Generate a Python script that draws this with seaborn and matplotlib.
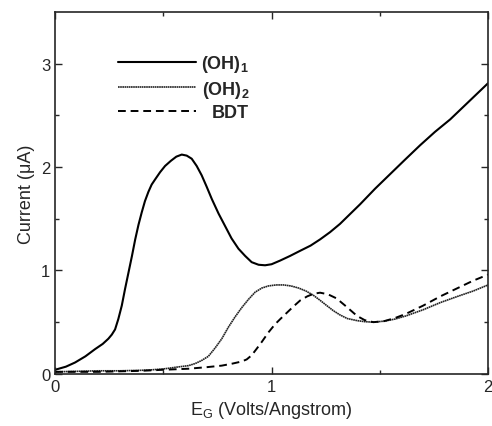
import numpy as np
import pandas as pd
import seaborn as sns
import matplotlib.pyplot as plt

x_oh1 = [0, 0.05, 0.092, 0.14, 0.185, 0.22, 0.246, 0.262, 0.277, 0.292, 0.308, 0.323, 0.339, 0.355,
         0.37, 0.385, 0.40, 0.415, 0.431, 0.446, 0.462, 0.485, 0.508, 0.535, 0.56, 0.585, 0.608, 0.631,
         0.654, 0.677, 0.70, 0.724, 0.755, 0.785, 0.815, 0.847, 0.878, 0.908, 0.94, 0.97, 1.0, 1.039,
         1.085, 1.132, 1.18, 1.224, 1.27, 1.316, 1.36, 1.409, 1.478, 1.547, 1.616, 1.686, 1.755, 1.825,
         1.91, 2.0]
y_oh1 = [0.04, 0.07, 0.11, 0.17, 0.24, 0.29, 0.34, 0.38, 0.43, 0.53, 0.66, 0.82, 0.98, 1.14,
         1.30, 1.44, 1.56, 1.67, 1.76, 1.83, 1.88, 1.95, 2.01, 2.06, 2.10, 2.12, 2.11, 2.08,
         2.01, 1.92, 1.81, 1.69, 1.55, 1.43, 1.31, 1.21, 1.14, 1.08, 1.055, 1.05, 1.06, 1.095,
         1.14, 1.19, 1.24, 1.30, 1.37, 1.45, 1.54, 1.64, 1.79, 1.93, 2.07, 2.21, 2.34, 2.46,
         2.63, 2.81]

x_oh2 = [0, 0.1, 0.2, 0.3, 0.4, 0.45, 0.508, 0.56, 0.616, 0.647, 0.677, 0.708, 0.739, 0.77, 0.80,
         0.831, 0.862, 0.893, 0.924, 0.955, 0.985, 1.02, 1.055, 1.09, 1.125, 1.16, 1.193, 1.225, 1.255,
         1.286, 1.316, 1.35, 1.395, 1.43, 1.47, 1.52, 1.57, 1.62, 1.7, 1.78, 1.86, 1.93, 2.0]
y_oh2 = [0.02, 0.025, 0.03, 0.03, 0.035, 0.04, 0.05, 0.065, 0.08, 0.10, 0.13, 0.17, 0.25, 0.34, 0.45,
         0.55, 0.64, 0.72, 0.79, 0.83, 0.85, 0.86, 0.86, 0.85, 0.83, 0.80, 0.76, 0.71, 0.66,
         0.61, 0.57, 0.535, 0.515, 0.505, 0.50, 0.51, 0.53, 0.56, 0.62, 0.69, 0.75, 0.80, 0.86]

x_bdt = [0, 0.1, 0.2, 0.3, 0.4, 0.5, 0.616, 0.7, 0.77, 0.82, 0.862, 0.885, 0.908, 0.93, 0.955,
         0.985, 1.016, 1.04, 1.07, 1.1, 1.132, 1.165, 1.195, 1.224, 1.26, 1.3, 1.34, 1.395, 1.43,
         1.47, 1.52, 1.57, 1.62, 1.7, 1.78, 1.86, 1.93, 2.0]
y_bdt = [0.02, 0.02, 0.02, 0.025, 0.03, 0.04, 0.05, 0.065, 0.08, 0.10, 0.12, 0.14, 0.18, 0.24, 0.31,
         0.40, 0.48, 0.53, 0.59, 0.65, 0.71, 0.75, 0.775, 0.785, 0.77, 0.73, 0.66, 0.56, 0.52,
         0.50, 0.51, 0.54, 0.58, 0.66, 0.75, 0.83, 0.90, 0.96]

sns.set_style('ticks')
plt.rcParams['font.family'] = ['Liberation Sans', 'DejaVu Sans']
plt.rcParams['mathtext.fontset'] = 'custom'
plt.rcParams['mathtext.rm'] = 'Liberation Sans'
plt.rcParams['mathtext.bf'] = 'Liberation Sans:bold'

fig, ax = plt.subplots(figsize=(4.92, 4.27), dpi=100)
sns.lineplot(x=x_oh1, y=y_oh1, ax=ax, color='black', linewidth=1.5, label='(OH)$_\\mathbf{1}$')
sns.lineplot(x=x_oh2, y=y_oh2, ax=ax, color='#222222', linewidth=1.2, linestyle=(0, (1, 0.3)),
             label='(OH)$_\\mathbf{2}$')
sns.lineplot(x=x_bdt, y=y_bdt, ax=ax, color='black', linewidth=1.4, linestyle=(0, (4, 2.5)), label='BDT')

ax.set_xlim(0, 2)
ax.set_ylim(0, 3.5)
ax.set_xticks([0, 1, 2])
ax.set_xticks([0.5, 1.5], minor=True)
ax.set_yticks([0, 1, 2, 3])
ax.set_yticks([0.5, 1.5, 2.5], minor=True)
ax.tick_params(which='both', direction='in', top=True, right=True, labelsize=12)
ax.tick_params(which='major', length=5, width=1)
ax.tick_params(which='minor', length=3, width=1)
for s in ax.spines.values():
    s.set_linewidth(1.2)
ax.set_xlabel('E$_\\mathrm{G}$ (Volts/Angstrom)', fontsize=13)
ax.set_ylabel('Current (\u03bcA)', fontsize=13)

leg = ax.legend(loc='upper left', bbox_to_anchor=(0.1085, 0.931), frameon=False, handlelength=4.3,
                handletextpad=0.3, labelspacing=0.25, prop={'weight': 'bold', 'size': 13})

plt.subplots_adjust(left=0.112, right=0.992, top=0.97, bottom=0.122)

# etykiety legendy wyrownane do prawej, jak w oryginale
fig.canvas.draw()
r = fig.canvas.get_renderer()
teksty = leg.get_texts()
szer = [t.get_window_extent(r).width for t in teksty]
for t, w in zip(teksty, szer):
    t.set_x(max(szer) - w)

plt.savefig('out.png', dpi=100)
